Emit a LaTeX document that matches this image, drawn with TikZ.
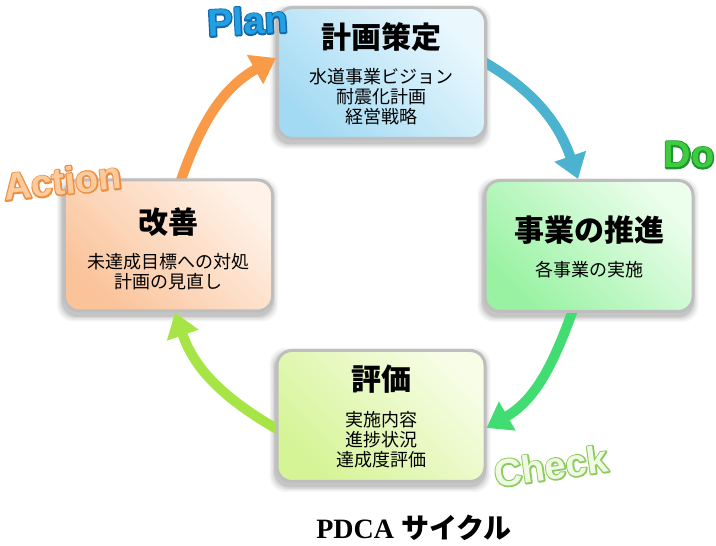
\documentclass[tikz,border=0pt]{standalone}
\usepackage{fontspec}
\setmainfont{Liberation Serif}
\newfontfamily\jp{Noto Sans CJK JP}
\newfontfamily\lbl{Liberation Sans}
\usetikzlibrary{arrows.meta}
\pgfdeclarelayer{background}
\pgfsetlayers{background,main}

\definecolor{boxborder}{HTML}{BEBEBE}
\definecolor{planL}{HTML}{EAF8FE}
\definecolor{planD}{HTML}{A3DAF3}
\definecolor{doL}{HTML}{ECFEEC}
\definecolor{doD}{HTML}{98F2A2}
\definecolor{actL}{HTML}{FFF2E8}
\definecolor{actD}{HTML}{FAC39A}
\definecolor{chkL}{HTML}{F7FDE6}
\definecolor{chkD}{HTML}{D5F496}
\definecolor{cOrange}{HTML}{F99A48}
\definecolor{cBlue}{HTML}{4BB2CF}
\definecolor{cGreen}{HTML}{42DD72}
\definecolor{cLime}{HTML}{A6E545}
\definecolor{planF}{HTML}{22A0E4}
\definecolor{doF}{HTML}{3ECC3E}
\definecolor{actF}{HTML}{FBCB9E}
\definecolor{chkF}{HTML}{F0F9E4}

% outlined text: #1 stroke rgb (pdf numbers), #2 fill colour, #3 stroke width, #4 text
% a stroke-only copy underneath, the filled text on top
\newcommand\olt[4]{{%
  \rlap{\special{pdf:literal direct 1 Tr #3 w 1 j #1 RG}#4\special{pdf:literal direct 0 Tr}}%
  \color{#2}#4}}

\newcommand\bshadow[1]{%
  \foreach \e/\o in {5/0.04,3.5/0.05,2/0.07,0.5/0.09}{%
    \fill[black, opacity=\o, rounded corners=16bp]
      ([shift={(-\e-1,-\e-4)}]#1.south west) rectangle ([shift={(\e-1,\e-4)}]#1.north east);}}

\begin{document}
\begin{tikzpicture}[x=1bp,y=1bp,
  box/.style={rectangle, rounded corners=15bp, draw=boxborder, line width=3bp,
    minimum width=208bp, minimum height=131bp, inner sep=0pt},
  ttl/.style={font=\jp\bfseries\fontsize{30bp}{34bp}\selectfont, inner sep=0pt},
  sub/.style={font=\jp\fontsize{18bp}{20bp}\selectfont, align=center, inner sep=0pt},
  lblsty/.style={font=\lbl\bfseries\fontsize{38bp}{40bp}\selectfont, inner sep=0pt},
  arr/.style={line width=10bp, -{Triangle[width=32bp,length=24bp]}}
]
\useasboundingbox (0,0) rectangle (716,546);

% boxes
\node[box, top color=planL, bottom color=planD, shading angle=-45] (plan) at (381.5,473) {};
\node[box, top color=doL, bottom color=doD, shading angle=-45] (do) at (589,300) {};
\node[box, top color=actL, bottom color=actD, shading angle=-45] (act) at (168.5,300.5) {};
\node[box, top color=chkL, bottom color=chkD, shading angle=-45] (chk) at (381,130) {};

% box texts
\node[ttl] (plant) at ([yshift=35.5bp]plan.center) {計画策定};
\node[sub] (plans) at ([yshift=-23.5bp]plan.center) {水道事業ビジョン\\耐震化計画\\経営戦略};
\node[ttl] (dot) at ([yshift=16bp]do.center) {事業の推進};
\node[sub] (dos) at ([yshift=-24bp]do.center) {各事業の実施};
\node[ttl] (actt) at ([yshift=23.5bp]act.center) {改善};
\node[sub] (acts) at ([yshift=-26.5bp]act.center) {未達成目標への対処\\計画の見直し};
\node[ttl] (chkt) at ([yshift=36.5bp]chk.center) {評価};
\node[sub] (chks) at ([yshift=-23.5bp]chk.center) {実施内容\\進捗状況\\達成度評価};

% shadows and arrows behind boxes
\begin{pgfonlayer}{background}
\bshadow{plan}
\bshadow{do}
\bshadow{act}
\bshadow{chk}
\draw[arr, draw=cOrange] ([xshift=12bp,yshift=-3bp]act.north) to[out=71,in=209] ([yshift=15bp]plan.west);
\draw[arr, draw=cBlue] ([xshift=-3bp,yshift=11bp]plan.east) to[out=-30,in=109] ([xshift=-11bp]do.north);
\draw[arr, draw=cGreen] ([xshift=-16bp,yshift=3bp]do.south) to[out=-110,in=30] ([yshift=-12bp]chk.east);
\draw[arr, draw=cLime] ([xshift=3bp,yshift=-14bp]chk.west) to[out=150,in=-71] ([xshift=6.5bp]act.south);
\end{pgfonlayer}

% phase labels
\node[lblsty, rotate=3] (lplan) at (247.5,525) {\olt{0.082 0.412 0.659}{planF}{2.8}{Plan}};
\node[lblsty] (ldo) at (689,391) {\olt{0.118 0.58 0.196}{doF}{2.8}{Do}};
\node[lblsty, rotate=6] (lact) at (62.5,365) {\olt{0.925 0.557 0.259}{actF}{2.8}{Action}};
\node[lblsty, rotate=8] (lchk) at (551,80) {\olt{0.549 0.796 0.369}{chkF}{2.8}{Check}};

% caption
\node[font=\bfseries\fontsize{28bp}{30bp}\selectfont, inner sep=0pt] (title) at (414,18) {PDCA {\jp サイクル}};
\end{tikzpicture}
\end{document}
